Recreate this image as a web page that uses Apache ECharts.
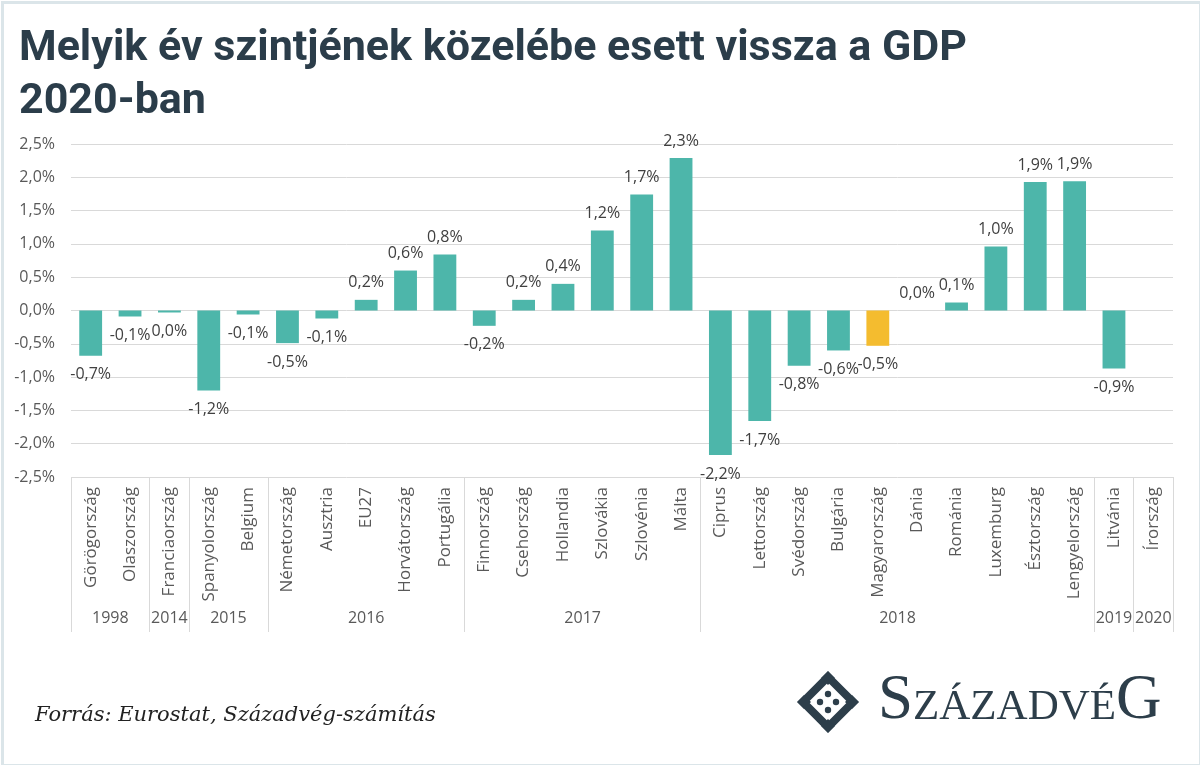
<!DOCTYPE html>
<html>
<head>
<meta charset="utf-8">
<script src="https://cdn.jsdelivr.net/npm/echarts@6/dist/echarts.min.js"></script>
<style>
html,body{margin:0;padding:0;background:#fff;}
#c{width:1200px;height:765px;}
</style>
</head>
<body>
<div id="c"></div>
<script>
const categories = ['Görögország','Olaszország','Franciaország','Spanyolország','Belgium','Németország','Ausztria','EU27','Horvátország','Portugália','Finnország','Csehország','Hollandia','Szlovákia','Szlovénia','Málta','Ciprus','Lettország','Svédország','Bulgária','Magyarország','Dánia','Románia','Luxemburg','Észtország','Lengyelország','Litvánia','Írország'];
const values = [-0.68,-0.09,-0.03,-1.20,-0.06,-0.49,-0.12,0.16,0.60,0.84,-0.23,0.16,0.40,1.20,1.74,2.29,-2.17,-1.66,-0.83,-0.60,-0.53,0.00,0.12,0.96,1.93,1.94,-0.87,null];
const yearLabels = ['1998','2014','2015','2016','2017','2018','2019','2020'];
const yearCounts = [2,1,2,5,6,10,1,1];
const highlightCategory = 'Magyarország';
const yTicks = {min:-2.5, max:2.5, interval:0.5};

const TEAL = '#4db6aa';
const YELLOW = '#f4bc2f';
const AXIS_FONT = '"Open Sans", sans-serif';

const yearBounds = [0];
const yearCenters = [];
const centerToYear = {};
let acc = 0;
yearCounts.forEach((n, i) => {
  const c = acc + n / 2;
  yearCenters.push(c);
  centerToYear[c] = yearLabels[i];
  acc += n;
  yearBounds.push(acc);
});

function fmt(v, digits) {
  let s = Number(v).toFixed(digits);
  if (/^-0\.0+$/.test(s)) s = s.slice(1);
  return s.replace('.', ',') + '%';
}

const barData = values.map((v, i) => {
  if (v === null) return {value: null};
  const item = {
    value: v,
    label: v < 0 ? {position: 'bottom', distance: 11} : {position: 'top', distance: 9}
  };
  if (categories[i] === highlightCategory) item.itemStyle = {color: YELLOW};
  return item;
});

const chart = echarts.init(document.getElementById('c'), null, {renderer: 'canvas'});
const gridRect = {left: 71, right: 27, top: 144, bottom: 288};

chart.setOption({
  animation: false,
  backgroundColor: '#ffffff',
  title: {
    text: 'Melyik év szintjének közelébe esett vissza a GDP\n2020-ban',
    left: 14, top: 18,
    textStyle: {
      fontSize: 43, fontWeight: 'bold', color: '#2b3d4a', lineHeight: 53,
      fontFamily: '"Roboto", sans-serif'
    }
  },
  grid: [Object.assign({}, gridRect), Object.assign({}, gridRect)],
  xAxis: [
    {
      type: 'category', gridIndex: 0, data: categories,
      axisLine: {show: false}, axisTick: {show: false},
      axisLabel: {interval: 0, rotate: 90, margin: 10, fontSize: 17, color: '#595959', fontFamily: AXIS_FONT}
    },
    {
      type: 'value', gridIndex: 1, min: 0, max: categories.length, position: 'bottom',
      axisLine: {show: false}, splitLine: {show: false},
      axisTick: {show: true, customValues: yearBounds, length: 155, lineStyle: {color: '#d9d9d9', width: 1}},
      axisLabel: {customValues: yearCenters, formatter: v => centerToYear[v] || '', margin: 133, fontSize: 16, color: '#595959', fontFamily: AXIS_FONT}
    }
  ],
  yAxis: [
    {
      type: 'value', gridIndex: 0, min: yTicks.min, max: yTicks.max, interval: yTicks.interval,
      axisLine: {show: false}, axisTick: {show: false},
      splitLine: {lineStyle: {color: '#d9d9d9', width: 1}},
      axisLabel: {formatter: v => fmt(v, 1), margin: 16, fontSize: 16, color: '#595959', fontFamily: AXIS_FONT}
    },
    {type: 'value', gridIndex: 1, min: 0, max: 1, show: false}
  ],
  series: [{
    type: 'bar', xAxisIndex: 0, yAxisIndex: 0,
    data: barData,
    barCategoryGap: '42%',
    itemStyle: {color: TEAL},
    label: {
      show: true, fontSize: 16, color: '#404040', fontFamily: AXIS_FONT,
      formatter: p => (p.value === null || p.value === undefined) ? '' : fmt(p.value, 1)
    }
  }],
  graphic: [
    {
      type: 'rect', left: 0, top: 0, z: 100, silent: true,
      shape: {x: 1, y: 1, width: 1198, height: 763},
      style: {fill: 'none', stroke: '#dbe5e9', lineWidth: 3}
    },
    {
      type: 'text', left: 35, top: 705,
      style: {text: 'Forrás: Eurostat, Századvég-számítás', font: 'italic 21px "DejaVu Serif", serif', fill: '#222'}
    },
    {
      type: 'group', x: 828, y: 702,
      children: [
        {type: 'polygon', shape: {points: [[0,-25],[25,0],[0,25],[-25,0]]}, style: {fill: '#fff', stroke: '#2d3e4a', lineWidth: 8}},
        {type: 'polygon', shape: {points: [[0,-31],[7,-24],[0,-17],[-7,-24]]}, style: {fill: '#2d3e4a'}},
        {type: 'polygon', shape: {points: [[0,31],[7,24],[0,17],[-7,24]]}, style: {fill: '#2d3e4a'}},
        {type: 'polygon', shape: {points: [[-31,0],[-24,7],[-17,0],[-24,-7]]}, style: {fill: '#2d3e4a'}},
        {type: 'polygon', shape: {points: [[31,0],[24,7],[17,0],[24,-7]]}, style: {fill: '#2d3e4a'}},
        {type: 'circle', shape: {cx: 0, cy: -8, r: 3.2}, style: {fill: '#2d3e4a'}},
        {type: 'circle', shape: {cx: 0, cy: 8, r: 3.2}, style: {fill: '#2d3e4a'}},
        {type: 'circle', shape: {cx: -8, cy: 0, r: 3.2}, style: {fill: '#2d3e4a'}},
        {type: 'circle', shape: {cx: 8, cy: 0, r: 3.2}, style: {fill: '#2d3e4a'}}
      ]
    },
    {
      type: 'text', left: 878, top: 670,
      style: {
        text: '{b|S}{s|ZÁZADVÉ}{b|G}',
        fill: '#2d3e4a',
        rich: {
          b: {fontSize: 63, fontFamily: '"Liberation Serif", serif', fill: '#2d3e4a', verticalAlign: 'bottom', lineHeight: 64},
          s: {fontSize: 43, fontFamily: '"Liberation Serif", serif', fill: '#2d3e4a', verticalAlign: 'bottom', lineHeight: 64, padding: [0, 0, 4, 0]}
        }
      }
    }
  ]
});
</script>
</body>
</html>
